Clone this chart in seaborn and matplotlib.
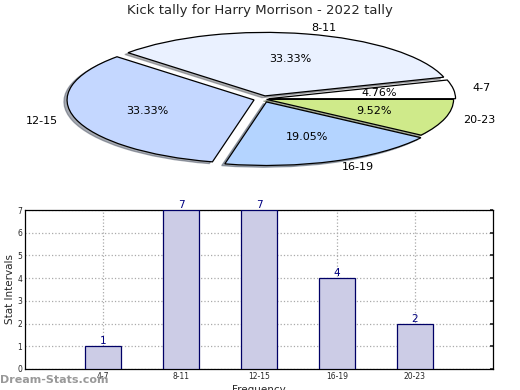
import matplotlib
matplotlib.use("Agg")
import matplotlib.pyplot as plt
import seaborn as sns
import pandas as pd

categories = ["4-7", "8-11", "12-15", "16-19", "20-23"]
counts = [1, 7, 7, 4, 2]
pie_colors = ["#FFFFFF", "#EAF1FF", "#C4D7FF", "#B4D4FF", "#CFEA8A"]
explode = [0.03, 0.05, 0.05, 0.05, 0.02]
title = "Kick tally for Harry Morrison - 2022 tally"

sns.set_theme(style="white")
plt.rcParams['font.family'] = ['DejaVu Sans']

fig = plt.figure(figsize=(5.2, 3.9), dpi=100)

# Pie (squashed ellipse)
axp = fig.add_axes([0, 200 / 390, 1, 170 / 390])
wedges, texts, autotexts = axp.pie(
    counts, labels=categories, colors=pie_colors, explode=explode,
    autopct="%.2f%%", startangle=0, counterclock=True,
    shadow={"ox": -0.012, "oy": -0.02, "shade": 0.6},
    wedgeprops=dict(edgecolor="black", linewidth=0.9),
    textprops=dict(fontsize=8, color="black"))
axp.set_aspect("auto")
rx, ry, cx, cy = 187.0, 63.5, 263.0, 79.0
axp.set_xlim(-cx / rx, (520 - cx) / rx)
axp.set_ylim(-(170 - cy) / ry, cy / ry)
axp.axis("off")
fig.text(0.5, 0.99, title, ha="center", va="top", fontsize=9.5)

# Bar chart
axb = fig.add_axes([25 / 520, 21 / 390, 468 / 520, 159 / 390])
df = pd.DataFrame({"cat": categories, "val": counts})
sns.barplot(data=df, x="cat", y="val", color="#CCCCE6", edgecolor="#000066",
            linewidth=0.9, width=0.46, saturation=1, ax=axb, zorder=3)
axb.set_xlim(-1, 5)
axb.set_ylim(0, 7)
axb.set_yticks(range(0, 8))
axb.grid(True, color="#AAAAAA", linestyle=":", linewidth=0.9, zorder=0)
axb.set_axisbelow(True)
for s in axb.spines.values():
    s.set_color("black")
    s.set_linewidth(0.9)
axb.tick_params(axis="both", labelsize=5.5, length=2, direction="in",
                right=True, top=False, pad=2)
for i, v in enumerate(counts):
    axb.text(i, v, str(v), ha="center", va="bottom", fontsize=7.5,
             color="#000080")
axb.set_ylabel("Stat Intervals", fontsize=7.5, labelpad=2)
axb.set_xlabel("Frequency", fontsize=7.5, labelpad=3)
fig.text(0.0, 0.012, "Dream-Stats.com", fontsize=8, color="#999999",
         fontweight="bold", ha="left", va="bottom")

fig.savefig("out.png", dpi=100)
